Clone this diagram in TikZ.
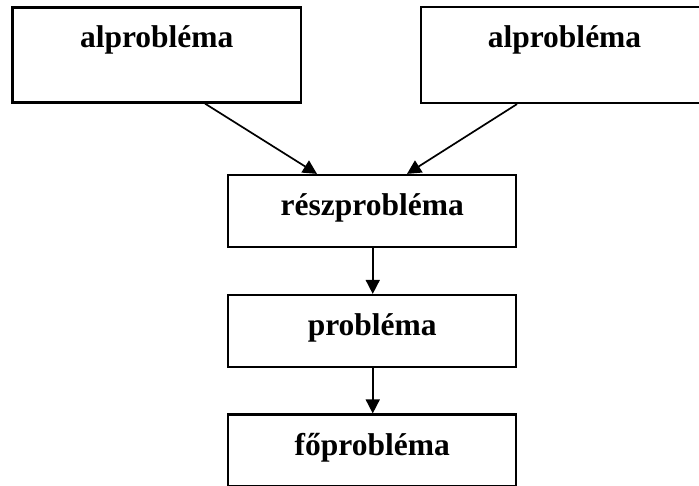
\documentclass[tikz,border=0pt]{standalone}
\usepackage{fontspec}
\setmainfont{Liberation Serif}
\usetikzlibrary{arrows.meta}
\begin{document}
\begin{tikzpicture}[x=1pt,y=-1pt,
  box/.style={draw=black, line width=2.2pt, fill=white, inner sep=0pt,
    minimum width=#1, minimum height=72pt},
  box/.default=288pt,
  lbl/.style={anchor=base, inner sep=0pt, font=\fontsize{31.5}{36}\selectfont\bfseries},
  arr/.style={draw=black, line width=1.7pt, -{Triangle[length=14pt,width=14pt]}}]
  \useasboundingbox (0,0) rectangle (699,485);
  \clip (0,0) rectangle (699,485);

  % boxes
  \node[box=288.5pt, minimum height=95pt] (al1) at (156.75,55) {};
  \node[box=287pt, minimum height=96pt] (al2) at (564.5,55) {};
  \node[box] (resz) at (372.25,211) {};
  \node[box] (prob) at (372.25,331) {};
  \node[box] (fo) at (372.25,450.5) {};

  % labels
  \node[lbl] (tal1) at (156.75,47.5) {alprobléma};
  \node[lbl] (tal2) at (564.5,47.5) {alprobléma};
  \node[lbl] (tresz) at (372.25,215) {részprobléma};
  \node[lbl] (tprob) at (372.25,335) {probléma};
  \node[lbl] (tfo) at (372.25,455) {főprobléma};

  % connectors
  \draw[arr] ([xshift=48.25pt]al1.south) -- ([xshift=-55.25pt]resz.north);
  \draw[arr] ([xshift=-47.5pt]al2.south) -- ([xshift=34.75pt]resz.north);
  \draw[arr] ([xshift=0.5pt]resz.south) -- ([xshift=0.5pt]prob.north);
  \draw[arr] ([xshift=0.5pt]prob.south) -- ([xshift=0.5pt]fo.north);
\end{tikzpicture}
\end{document}
